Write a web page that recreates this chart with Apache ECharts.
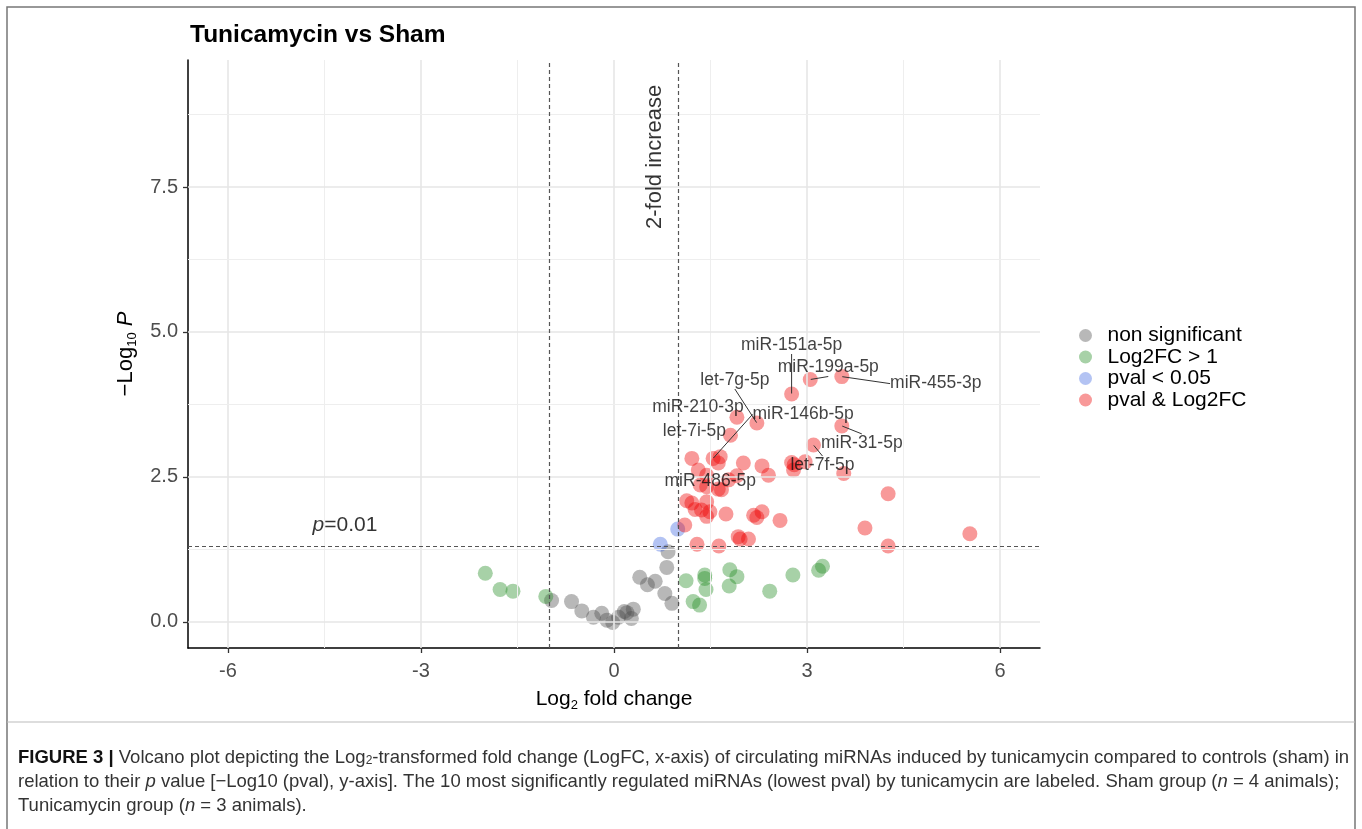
<!DOCTYPE html>
<html><head><meta charset="utf-8">
<script src="https://cdn.jsdelivr.net/npm/echarts@6/dist/echarts.min.js"></script>
<style>html,body{margin:0;padding:0;background:#fff}#c{width:1362px;height:829px}</style>
</head><body><div id="c"></div>
<script>
// ---- data ----
const xTicks = [-6, -3, 0, 3, 6];
const xMinor = [-4.5, -1.5, 1.5, 4.5];
const yTicks = [0, 2.5, 5, 7.5];
const yMinor = [1.25, 3.75, 6.25, 8.75];

// non significant
const nsX = [-0.97, -0.66, -0.50, -0.32, -0.19, -0.11, -0.02, 0.07, 0.16, 0.20, 0.30, 0.27, 0.40, 0.52, 0.64, 0.79, 0.90, 0.82, 0.84];
const nsY = [0.37, 0.35, 0.19, 0.08, 0.15, 0.03, -0.01, 0.08, 0.18, 0.16, 0.22, 0.06, 0.77, 0.64, 0.70, 0.49, 0.32, 0.94, 1.21];

// Log2FC > 1
const fcX = [-2.00, -1.77, -1.57, -1.06, 1.12, 1.41, 1.41, 1.43, 1.23, 1.33, 1.80, 1.79, 1.91, 2.42, 2.78, 3.18, 3.24];
const fcY = [0.84, 0.56, 0.53, 0.44, 0.71, 0.81, 0.75, 0.56, 0.35, 0.29, 0.90, 0.62, 0.78, 0.53, 0.81, 0.89, 0.96];

// pval < 0.05
const pvX = [0.72, 0.99];
const pvY = [1.34, 1.60];

// pval & Log2FC (first ten are the labelled miRNAs)
const sigX = [2.76, 3.05, 3.54, 1.91, 2.22, 1.81, 3.54, 3.10, 1.54, 1.62,
  1.21, 1.65, 1.62, 1.31, 2.01, 2.30, 2.40, 2.76, 2.80, 2.79, 2.97, 3.57, 4.26,
  1.44, 1.34, 1.44, 1.67, 1.78, 1.91, 1.13, 1.21, 1.44, 1.26, 1.36, 1.44, 1.49,
  1.74, 2.17, 2.22, 2.30, 2.58, 1.10, 3.90, 5.53, 1.93, 1.96, 2.09, 1.29, 1.63, 4.26];
const sigY = [3.93, 4.18, 4.23, 3.53, 3.43, 3.22, 3.38, 3.05, 2.82, 2.29,
  2.82, 2.85, 2.74, 2.62, 2.74, 2.69, 2.53, 2.75, 2.71, 2.62, 2.76, 2.56, 2.21,
  2.53, 2.36, 2.33, 2.28, 2.45, 2.52, 2.09, 2.05, 2.07, 1.94, 1.93, 1.82, 1.90,
  1.86, 1.84, 1.80, 1.90, 1.75, 1.67, 1.62, 1.52, 1.47, 1.43, 1.43, 1.34, 1.31, 1.31];
const sigLabel = ['miR-151a-5p', 'miR-199a-5p', 'miR-455-3p', 'miR-210-3p', 'let-7g-5p', 'let-7i-5p', 'miR-31-5p', 'let-7f-5p', 'miR-146b-5p', 'miR-486-5p'];

const seriesNames = ['non significant', 'Log2FC > 1', 'pval < 0.05', 'pval & Log2FC'];
const pThreshold = 1.301;   // -log10(0.05)
const fcThreshold = 1;

// ---- styles / layout ----
const colors = ['rgba(77,77,77,0.5)', 'rgba(34,139,34,0.5)', 'rgba(65,105,225,0.5)', 'rgba(238,0,0,0.5)'];
const FONT = 'Liberation Sans, Arial, sans-serif';
const CAP = 'Liberation Sans, Arial, sans-serif';
const labelOffsets = {
  'miR-151a-5p': [0, -49], 'miR-199a-5p': [18, -12], 'miR-455-3p': [94, 7],
  'let-7g-5p': [-22, -43], 'miR-210-3p': [-39, -10], 'miR-146b-5p': [90, -44],
  'let-7i-5p': [-36, -4], 'miR-31-5p': [20, 17], 'let-7f-5p': [9, 20], 'miR-486-5p': [-8, -8]
};
const noLine = ['miR-210-3p', 'let-7i-5p', 'miR-486-5p'];

const zip = (xs, ys) => xs.map((x, i) => [x, ys[i]]);
// label overlay: same coordinates as the labelled points, drawn on top
const labelData = sigLabel.map((name, i) => ({
  value: [sigX[i], sigY[i]], name: name,
  labelLine: { show: noLine.indexOf(name) < 0 }
}));

const gridLines = [].concat(
  xTicks.map(v => ({ xAxis: v, lineStyle: { color: '#e6e6e6', width: 1.6, type: 'solid' } })),
  xMinor.map(v => ({ xAxis: v, lineStyle: { color: '#eeeeee', width: 1, type: 'solid' } })),
  yTicks.map(v => ({ yAxis: v, lineStyle: { color: '#e6e6e6', width: 1.6, type: 'solid' } })),
  yMinor.map(v => ({ yAxis: v, lineStyle: { color: '#eeeeee', width: 1, type: 'solid' } }))
);

const pointSize = 15;
function pointSeries(name, data, color, extra) {
  return Object.assign({
    name: name, type: 'scatter', data: data, symbolSize: pointSize,
    itemStyle: { color: color }, emphasis: { disabled: true }, silent: true
  }, extra || {});
}

const chart = echarts.init(document.getElementById('c'), null, { renderer: 'canvas' });
chart.setOption({
  animation: false,
  backgroundColor: '#fff',
  textStyle: { fontFamily: FONT },
  title: {
    text: 'Tunicamycin vs Sham', left: 190, top: 23, padding: 0,
    textStyle: { fontFamily: FONT, fontSize: 24.5, fontWeight: 'bold', color: '#000' }
  },
  grid: { left: 188, right: 322, top: 60, bottom: 181, containLabel: false },
  legend: {
    orient: 'vertical', left: 1074, top: 320, itemGap: 0.5,
    itemWidth: 30, itemHeight: 13, icon: 'circle',
    data: seriesNames,
    textStyle: { fontFamily: FONT, fontSize: 21, color: '#000', lineHeight: 20, padding: [0, 0, 0, 2] },
    selectedMode: false
  },
  xAxis: {
    type: 'value', min: -6.62, max: 6.62,
    name: 'Log{sub|2} fold change', nameLocation: 'middle', nameGap: 36,
    nameTextStyle: {
      fontFamily: FONT, fontSize: 21, color: '#000', lineHeight: 26,
      rich: { sub: { fontFamily: FONT, fontSize: 13, color: '#000', verticalAlign: 'bottom', lineHeight: 15 } }
    },
    axisLine: { show: true, onZero: false, lineStyle: { color: '#000', width: 1.5 } },
    axisTick: { show: true, length: 5, customValues: xTicks, lineStyle: { color: '#333', width: 1.3 } },
    axisLabel: { customValues: xTicks, fontFamily: FONT, fontSize: 20, color: '#4d4d4d', margin: 13 },
    splitLine: { show: false }
  },
  yAxis: {
    type: 'value', min: -0.45, max: 9.69,
    name: '\u2212Log{sub|10} {it|P}', nameLocation: 'middle', nameGap: 47, nameRotate: 90,
    nameTextStyle: {
      fontFamily: FONT, fontSize: 22, color: '#000', lineHeight: 26,
      rich: {
        sub: { fontFamily: FONT, fontSize: 13, color: '#000', verticalAlign: 'bottom', lineHeight: 15 },
        it: { fontFamily: FONT, fontSize: 22, color: '#000', fontStyle: 'italic' }
      }
    },
    axisLine: { show: true, onZero: false, lineStyle: { color: '#000', width: 1.5 } },
    axisTick: { show: true, length: 5, customValues: yTicks, lineStyle: { color: '#333', width: 1.3 } },
    axisLabel: { customValues: yTicks, fontFamily: FONT, fontSize: 20, color: '#4d4d4d', margin: 10,
      formatter: v => v.toFixed(1) },
    splitLine: { show: false }
  },
  series: [
    {
      name: 'grid', type: 'scatter', data: [], silent: true, z: 0,
      markLine: { silent: true, symbol: 'none', label: { show: false }, animation: false, data: gridLines }
    },
    {
      name: 'thresholds', type: 'scatter', data: [], silent: true, z: 1,
      markLine: {
        silent: true, symbol: 'none', label: { show: false }, animation: false,
        lineStyle: { color: '#555', width: 1.2, type: [4, 3] },
        data: [{ xAxis: -fcThreshold }, { xAxis: fcThreshold }, { yAxis: pThreshold }]
      }
    },
    pointSeries(seriesNames[0], zip(nsX, nsY), colors[0]),
    pointSeries(seriesNames[1], zip(fcX, fcY), colors[1]),
    pointSeries(seriesNames[2], zip(pvX, pvY), colors[2]),
    pointSeries(seriesNames[3], zip(sigX, sigY), colors[3]),
    {
      name: 'labels', type: 'scatter', data: labelData, symbolSize: 1, z: 10, silent: true,
      itemStyle: { color: 'rgba(0,0,0,0)' },
      label: {
        show: true, position: 'inside', formatter: '{b}',
        fontFamily: FONT, fontSize: 17.5, color: '#111', textBorderWidth: 0, textBorderColor: 'transparent'
      },
      labelLine: { show: true, lineStyle: { color: '#333', width: 1 } },
      labelLayout: function (p) {
        const o = labelOffsets[p.text];
        return o ? { dx: o[0], dy: o[1] } : {};
      }
    },
    {
      name: 'annotations', type: 'scatter', symbolSize: 0, silent: true, z: 5,
      data: [
        { value: [-4.18, 1.67], label: { show: true, position: 'inside', formatter: '{i|p}=0.01',
          fontFamily: FONT, fontSize: 21, color: '#000', textBorderWidth: 0,
          rich: { i: { fontFamily: FONT, fontSize: 21, color: '#000', fontStyle: 'italic' } } } },
        { value: [0.64, 8.02], label: { show: true, position: 'inside', formatter: '2-fold increase',
          rotate: 90, fontFamily: FONT, fontSize: 22, color: '#000', textBorderWidth: 0 } }
      ]
    }
  ],
  graphic: [
    { type: 'rect', shape: { x: 7, y: 7, width: 1348, height: 850 }, silent: true,
      style: { fill: 'none', stroke: '#777', lineWidth: 1.5 } },
    { type: 'line', shape: { x1: 7, y1: 722, x2: 1355, y2: 722 }, silent: true,
      style: { stroke: '#bbb', lineWidth: 1 } },
    { type: 'text', left: 18, top: 748, silent: true,
      style: { text: '{b|FIGURE 3 |} Volcano plot depicting the Log{s|2}-transformed fold change (LogFC, x-axis) of circulating miRNAs induced by tunicamycin compared to controls (sham) in',
        fontFamily: CAP, fontSize: 18.5, fill: '#333',
        rich: { b: { fontFamily: CAP, fontSize: 18.5, fontWeight: 'bold', fill: '#111' },
                s: { fontFamily: CAP, fontSize: 12, fill: '#333', verticalAlign: 'bottom', lineHeight: 14 } } } },
    { type: 'text', left: 18, top: 772, silent: true,
      style: { text: 'relation to their {i|p} value [\u2212Log10 (pval), y-axis]. The 10 most significantly regulated miRNAs (lowest pval) by tunicamycin are labeled. Sham group ({i|n} = 4 animals);',
        fontFamily: CAP, fontSize: 18.5, fill: '#333',
        rich: { i: { fontFamily: CAP, fontSize: 18.5, fontStyle: 'italic', fill: '#333' } } } },
    { type: 'text', left: 18, top: 796, silent: true,
      style: { text: 'Tunicamycin group ({i|n} = 3 animals).',
        fontFamily: CAP, fontSize: 18.5, fill: '#333',
        rich: { i: { fontFamily: CAP, fontSize: 18.5, fontStyle: 'italic', fill: '#333' } } } }
  ]
});
</script>
</body></html>
